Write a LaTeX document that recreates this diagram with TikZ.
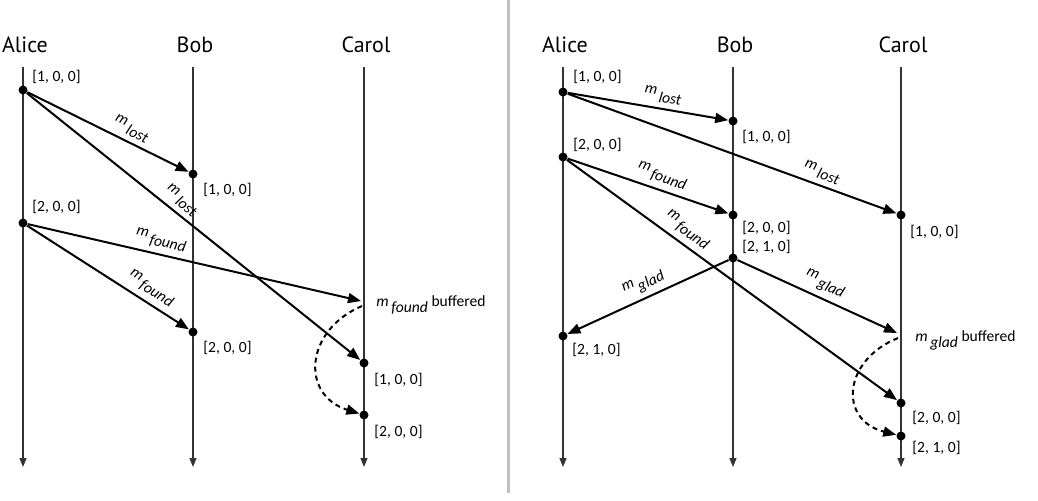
\documentclass[tikz,border=0pt]{standalone}
\usepackage{fontspec}
\setmainfont{Carlito}
\newfontfamily\titlefont{PT Sans}
\usetikzlibrary{arrows.meta,positioning}
\newcommand\msgname[1]{\textit{m}\,\raisebox{-0.9ex}{\textit{#1}}}

\begin{document}
\begin{tikzpicture}[
  x=0.5pt, y=-0.5pt,
  proc/.style={font=\titlefont\fontsize{11}{13}\selectfont, inner sep=0pt},
  life/.style={draw=black!80, line width=0.55pt, -{Triangle[length=4.5pt,width=3.5pt]}},
  event/.style={circle, fill, inner sep=0pt, minimum size=4.5pt},
  stamp/.style={font=\fontsize{7.8}{9}\selectfont, inner sep=0pt},
  msg/.style={line width=1pt, -{Triangle[length=6.5pt,width=5pt]}},
  lbl/.style={font=\fontsize{7.8}{9}\selectfont, sloped, above, inner sep=2.5pt},
  buf/.style={line width=1pt, dash pattern=on 2.5pt off 2pt, -{Triangle[length=6.5pt,width=5pt]}}
]
\useasboundingbox (0,0) rectangle (1038,500);
\draw[gray!50, line width=1.5pt] (508,0) -- (508,493);

% processes and their time lines
\foreach \p/\name/\x in {l/Alice/23, l/Bob/193, l/Carol/364, r/Alice/563, r/Bob/733, r/Carol/901}{
  \node[proc] (\p\name) at (\x+2,45) {\name};
  \coordinate (\p\name top) at (\x,67);
  \coordinate (\p\name end) at (\x,467);
  \draw[life] (\p\name top) -- (\p\name end);
}

% left: m_found overtakes m_lost
\node[event] (la1) at (23,90) {};
\node[event] (lb1) at (193,174) {};
\node[event] (la2) at (23,223) {};
\coordinate (lbuf) at (361,301);
\node[event] (lb2) at (193,332) {};
\node[event] (lc1) at (364,363) {};
\node[event] (lc2) at (364,415) {};

\draw[msg] (la1) -- node[lbl, pos=0.61] {\msgname{lost}} (lb1);
\draw[msg] (la1) -- node[lbl, pos=0.44] {\msgname{lost}} (lc1);
\draw[msg] (la2) -- node[lbl, pos=0.39] {\msgname{found}} (lbuf);
\draw[msg] (la2) -- node[lbl, pos=0.72] {\msgname{found}} (lb2);
\draw[buf] ([shift={(1,5)}]lbuf) .. controls (305,330) and (300,395) .. (lc2);

\node[stamp, anchor=west] at ([shift={(9,-13)}]la1) {[1, 0, 0]};
\node[stamp, anchor=west] at ([shift={(10,16)}]lb1) {[1, 0, 0]};
\node[stamp, anchor=west] at ([shift={(9,-16)}]la2) {[2, 0, 0]};
\node[stamp, anchor=base west] at ([shift={(15,5)}]lbuf) {\msgname{found} buffered};
\node[stamp, anchor=west] at ([shift={(10,16)}]lb2) {[2, 0, 0]};
\node[stamp, anchor=west] at ([shift={(10,17)}]lc1) {[1, 0, 0]};
\node[stamp, anchor=west] at ([shift={(10,17)}]lc2) {[2, 0, 0]};

% right: m_glad depends on m_found
\node[event] (ra1) at (563,92) {};
\node[event] (rb1) at (733,121) {};
\node[event] (ra2) at (563,157) {};
\node[event] (rb2) at (733,215) {};
\node[event] (rc1) at (901,215) {};
\node[event] (rb3) at (733,258) {};
\coordinate (rbuf) at (897,333);
\node[event] (ra3) at (563,336) {};
\node[event] (rc2) at (901,403) {};
\node[event] (rc3) at (901,436) {};

\draw[msg] (ra1) -- node[lbl, pos=0.58] {\msgname{lost}} (rb1);
\draw[msg] (ra1) -- node[lbl, pos=0.76] {\msgname{lost}} (rc1);
\draw[msg] (ra2) -- node[lbl, pos=0.56] {\msgname{found}} (rb2);
\draw[msg] (ra2) -- node[lbl, pos=0.34] {\msgname{found}} (rc2);
\draw[msg] (rb3) -- node[lbl, pos=0.49] {\msgname{glad}} (ra3);
\draw[msg] (rb3) -- node[lbl, pos=0.51] {\msgname{glad}} (rbuf);
\draw[buf] ([shift={(1,5)}]rbuf) .. controls (843,360) and (838,420) .. (rc3);

\node[stamp, anchor=west] at ([shift={(10,-15)}]ra1) {[1, 0, 0]};
\node[stamp, anchor=west] at ([shift={(9,16)}]rb1) {[1, 0, 0]};
\node[stamp, anchor=west] at ([shift={(10,-12)}]ra2) {[2, 0, 0]};
\node[stamp, anchor=west] at ([shift={(9,13)}]rb2) {[2, 0, 0]};
\node[stamp, anchor=west] at ([shift={(9,-11)}]rb3) {[2, 1, 0]};
\node[stamp, anchor=west] at ([shift={(9,17)}]rc1) {[1, 0, 0]};
\node[stamp, anchor=base west] at ([shift={(18,8)}]rbuf) {\msgname{glad} buffered};
\node[stamp, anchor=west] at ([shift={(9,14)}]ra3) {[2, 1, 0]};
\node[stamp, anchor=west] at ([shift={(11,15)}]rc2) {[2, 0, 0]};
\node[stamp, anchor=west] at ([shift={(11,12)}]rc3) {[2, 1, 0]};
\end{tikzpicture}
\end{document}
